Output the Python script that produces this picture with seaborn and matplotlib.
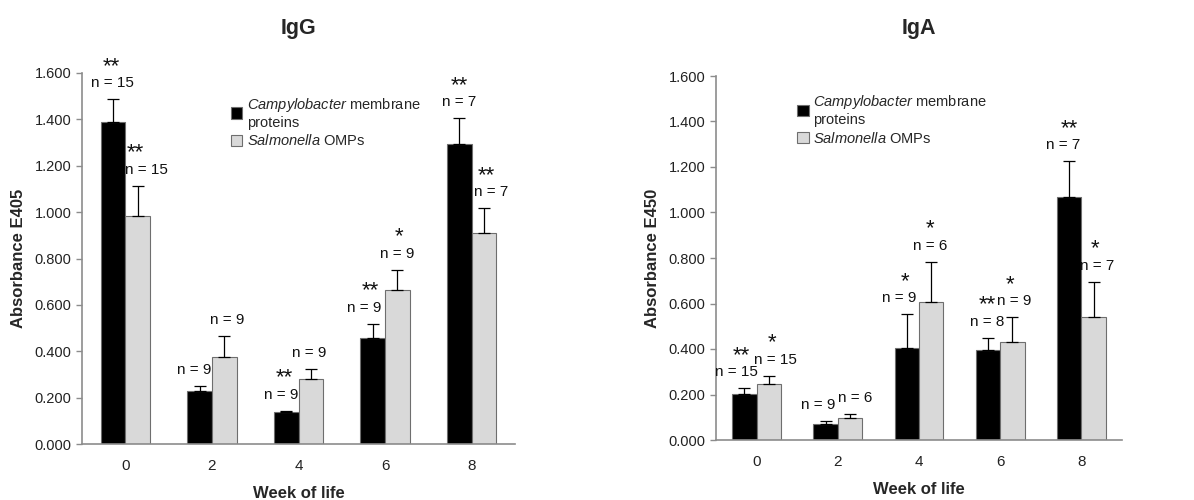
import matplotlib
matplotlib.use("Agg")
import matplotlib.pyplot as plt
import seaborn as sns
import pandas as pd
from matplotlib.ticker import FormatStrFormatter, MultipleLocator, FixedLocator

# data
weeks = ["0", "2", "4", "6", "8"]
groups = ["Campylobacter", "Salmonella"]

igg_campy = [1.390, 0.227, 0.137, 0.456, 1.292]
igg_campy_err = [0.097, 0.023, 0.005, 0.063, 0.112]
igg_salm = [0.983, 0.376, 0.281, 0.665, 0.908]
igg_salm_err = [0.130, 0.090, 0.042, 0.085, 0.108]
igg_campy_n = ["n = 15", "n = 9", "n = 9", "n = 9", "n = 7"]
igg_salm_n = ["n = 15", "n = 9", "n = 9", "n = 9", "n = 7"]
igg_campy_sig = ["**", "", "**", "**", "**"]
igg_salm_sig = ["**", "", "", "*", "**"]

iga_campy = [0.202, 0.070, 0.403, 0.396, 1.069]
iga_campy_err = [0.025, 0.012, 0.149, 0.054, 0.156]
iga_salm = [0.246, 0.095, 0.605, 0.432, 0.539]
iga_salm_err = [0.037, 0.019, 0.179, 0.107, 0.157]
iga_campy_n = ["n = 15", "n = 9", "n = 9", "n = 8", "n = 7"]
iga_salm_n = ["n = 15", "n = 6", "n = 6", "n = 9", "n = 7"]
iga_campy_sig = ["**", "", "*", "**", "**"]
iga_salm_sig = ["*", "", "*", "*", "*"]

# horizontal nudges (pixels) of the n / star labels, as placed in the original
igg_n_dx = [[-1, -5, -5, -9, 0], [9, 3, -2, 0, 7]]
igg_s_dx = [[-2, 0, -2, -2, 0], [-2, 0, 0, 2, 2]]
iga_n_dx = [[-8, -7, -8, -1, -6], [7, 5, -1, 2, 4]]
iga_s_dx = [[-3, 0, -2, -1, 0], [3, 0, -1, -2, 1]]

sns.set_style("white")
plt.rcParams["font.family"] = ["Liberation Sans", "DejaVu Sans"]
plt.rcParams["mathtext.fontset"] = "custom"
plt.rcParams["mathtext.it"] = "Liberation Sans:italic"
plt.rcParams["mathtext.rm"] = "Liberation Sans"

palette = {"Campylobacter": "#000000", "Salmonella": "#d9d9d9"}
legend_labels = [r"$\mathit{Campylobacter}$ membrane" + "\nproteins",
                 r"$\mathit{Salmonella}$ OMPs"]

fig = plt.figure(figsize=(11.94, 5), dpi=100)
ax1 = fig.add_axes([0.0687, 0.112, 0.3626, 0.742])
ax2 = fig.add_axes([0.5997, 0.12, 0.340, 0.728])


def panel(ax, campy, campy_err, salm, salm_err, ns, sigs, n_dx, s_dx,
          title, ylabel, width, leg_anchor, title_pad):
    df = pd.DataFrame({
        "week": weeks * 2,
        "group": [groups[0]] * 5 + [groups[1]] * 5,
        "value": campy + salm,
    })
    sns.barplot(data=df, x="week", y="value", hue="group", order=weeks,
                hue_order=groups, palette=palette, width=width,
                errorbar=None, edgecolor="#6e6e6e", linewidth=0.8, ax=ax)
    errs = [campy_err, salm_err]
    vals = [campy, salm]
    bar_conts = list(ax.containers)
    for k, cont in enumerate(bar_conts):
        xs = [b.get_x() + b.get_width() / 2 for b in cont]
        ax.errorbar(xs, vals[k], yerr=[[0] * 5, errs[k]], fmt="none",
                    ecolor="black", elinewidth=0.9, capsize=4, capthick=0.9,
                    zorder=3)
        for i, x in enumerate(xs):
            top = vals[k][i] + errs[k][i]
            ax.annotate(ns[k][i], (x, top), xytext=(n_dx[k][i], 16),
                        textcoords="offset pixels", ha="center", va="center",
                        fontsize=11, color="#111111")
            if sigs[k][i]:
                ax.annotate(sigs[k][i], (x, top), xytext=(s_dx[k][i], 33),
                            textcoords="offset pixels", ha="center",
                            va="center", fontsize=16, color="#111111")

    ax.set_xlim(-0.5, 4.5)
    ax.set_ylim(0, 1.6)
    ax.yaxis.set_major_locator(MultipleLocator(0.2))
    ax.yaxis.set_major_formatter(FormatStrFormatter("%.3f"))
    ax.xaxis.set_minor_locator(FixedLocator([-0.5, 0.5, 1.5, 2.5, 3.5, 4.5]))
    ax.tick_params(axis="x", which="major", length=0, labelsize=11,
                   pad=11, labelcolor="#222222")
    ax.tick_params(axis="x", which="minor", length=5, width=1,
                   color="#8c8c8c", direction="out")
    ax.tick_params(axis="y", length=4, width=1, color="#8c8c8c",
                   direction="out", left=True, labelsize=10.5,
                   labelcolor="#222222")
    for s in ["top", "right"]:
        ax.spines[s].set_visible(False)
    for s in ["left", "bottom"]:
        ax.spines[s].set_color("#8c8c8c")
        ax.spines[s].set_linewidth(1.2)

    ax.set_xlabel("Week of life", fontsize=12, fontweight="bold",
                  labelpad=9)
    ax.set_ylabel(ylabel, fontsize=12, fontweight="bold", labelpad=6)
    ax.set_title(title, fontsize=15.5, fontweight="bold", pad=28 if title_pad is None else title_pad)

    handles, _ = ax.get_legend_handles_labels()
    ax.legend(handles, legend_labels, loc="upper left",
              bbox_to_anchor=leg_anchor, frameon=False, fontsize=10.5,
              handlelength=0.8, handleheight=0.8, handletextpad=0.3,
              labelspacing=0.25, borderaxespad=0)


panel(ax1, igg_campy, igg_campy_err, igg_salm, igg_salm_err,
      [igg_campy_n, igg_salm_n], [igg_campy_sig, igg_salm_sig],
      igg_n_dx, igg_s_dx, "IgG", "Absorbance E405", 0.57, (0.33, 0.955), 28)
panel(ax2, iga_campy, iga_campy_err, iga_salm, iga_salm_err,
      [iga_campy_n, iga_salm_n], [iga_campy_sig, iga_salm_sig],
      iga_n_dx, iga_s_dx, "IgA", "Absorbance E450", 0.6, (0.185, 0.97), 30)

fig.savefig("out.png", dpi=100)
